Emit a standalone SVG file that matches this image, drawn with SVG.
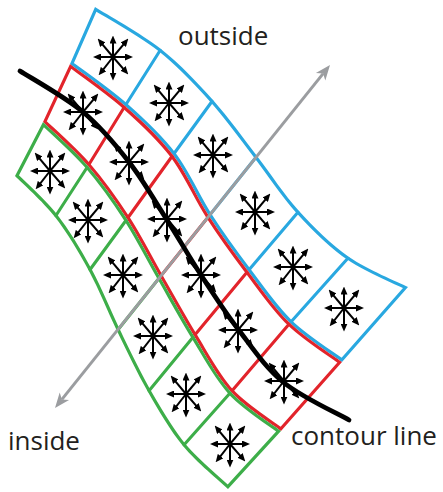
<svg xmlns="http://www.w3.org/2000/svg" xmlns:xlink="http://www.w3.org/1999/xlink" width="443" height="492" viewBox="0 0 443 492">
<style>
.band{fill:#fff;stroke-width:6.4;stroke-linejoin:miter}
.blue{stroke:#29a8e0}
.red{stroke:#e2242b}
.green{stroke:#3dae49}
.div{fill:none;stroke-width:3.1}
.lbl{font-family:"Open Sans","Liberation Sans",sans-serif;font-size:26px;fill:#231f20}
.arm{stroke:#000;stroke-width:2;marker-end:url(#ah)}
</style>
<defs>
<marker id="ah" markerUnits="userSpaceOnUse" markerWidth="8" markerHeight="7" refX="4.5" refY="3.5" orient="auto" viewBox="0 0 8 7">
<path d="M0,0 L8,3.5 L0,7 Z" fill="#000"/>
</marker>
<g id="star">
<line class="arm" x1="0" y1="0" x2="0" y2="-18"/>
<line class="arm" x1="0" y1="0" x2="13.1" y2="-15.7"/>
<line class="arm" x1="0" y1="0" x2="16.5" y2="0"/>
<line class="arm" x1="0" y1="0" x2="13" y2="14.8"/>
<line class="arm" x1="0" y1="0" x2="0" y2="20"/>
<line class="arm" x1="0" y1="0" x2="-12.2" y2="15.6"/>
<line class="arm" x1="0" y1="0" x2="-16.5" y2="0"/>
<line class="arm" x1="0" y1="0" x2="-13.1" y2="-15.7"/>
</g>
<path id="shB" d="M95,7 C106,14 141.3,33.5 161,49 C180.7,64.5 197,82.2 213,100 C229,117.8 242.7,137.5 257,156 C271.3,174.5 283.7,194.2 299,211 C314.3,227.8 330.8,244.3 349,257 C367.2,269.7 398.2,282 408,287 L342,362 C333.3,355.5 305.7,338.2 290,323 C274.3,307.8 261.5,288.8 248,271 C234.5,253.2 221.5,235.3 209,216 C196.5,196.7 187,173.3 173,155 C159,136.7 142.2,121.2 125,106 C107.8,90.8 79.2,71 70,64 Z"/>
<path id="shR" d="M70,64 C79.2,71 107.8,90.8 125,106 C142.2,121.2 159,136.7 173,155 C187,173.3 196.5,196.7 209,216 C221.5,235.3 234.5,253.2 248,271 C261.5,288.8 274.3,307.8 290,323 C305.7,338.2 333.3,355.5 342,362 L281,431 C272.7,424.5 245.5,407.8 231,392 C216.5,376.2 205.8,355.2 194,336 C182.2,316.8 171.2,296.5 160,277 C148.8,257.5 139,237.5 127,219 C115,200.5 102,182.2 88,166 C74,149.8 50.5,129.3 43,122 Z"/>
<path id="shG" d="M43,122 C50.5,129.3 74,149.8 88,166 C102,182.2 115,200.5 127,219 C139,237.5 148.8,257.5 160,277 C171.2,296.5 182.2,316.8 194,336 C205.8,355.2 216.5,376.2 231,392 C245.5,407.8 272.7,424.5 281,431 L228,489 C220.5,481.8 196.3,462.2 183,446 C169.7,429.8 159,411.2 148,392 C137,372.8 126.8,351.2 117,331 C107.2,310.8 99.3,290 89,271 C78.7,252 67.3,232.8 55,217 C42.7,201.2 21.7,182.8 15,176 Z"/>
<clipPath id="cB"><use xlink:href="#shB"/></clipPath>
<clipPath id="cR"><use xlink:href="#shR"/></clipPath>
<clipPath id="cG"><use xlink:href="#shG"/></clipPath>
</defs>
<rect width="443" height="492" fill="#fff"/>
<g id="band-outside">
<g clip-path="url(#cB)">
<use xlink:href="#shB" class="band blue"/>
<path class="div blue" d="M161,49 L125,106 M213,100 L173,155 M257,156 L209,216 M299,211 L248,271 M349,257 L290,323"/>
</g>
<g id="cell-o1"><use xlink:href="#star" x="113" y="57"/></g>
<g id="cell-o2"><use xlink:href="#star" x="169" y="103"/></g>
<g id="cell-o3"><use xlink:href="#star" x="213" y="155"/></g>
<g id="cell-o4"><use xlink:href="#star" x="255" y="212"/></g>
<g id="cell-o5"><use xlink:href="#star" x="293" y="267"/></g>
<g id="cell-o6"><use xlink:href="#star" x="344" y="308"/></g>
</g>
<g id="band-contour">
<g clip-path="url(#cR)">
<use xlink:href="#shR" class="band red"/>
<path class="div red" d="M125,106 L88,166 M173,155 L127,219 M209,216 L160,277 M248,271 L194,336 M290,323 L231,392"/>
</g>
<g id="cell-c1"><use xlink:href="#star" x="83" y="112"/></g>
<g id="cell-c2"><use xlink:href="#star" x="129" y="162"/></g>
<g id="cell-c3"><use xlink:href="#star" x="167" y="219"/></g>
<g id="cell-c4"><use xlink:href="#star" x="201" y="275"/></g>
<g id="cell-c5"><use xlink:href="#star" x="238" y="330"/></g>
<g id="cell-c6"><use xlink:href="#star" x="284" y="381"/></g>
</g>
<g id="band-inside">
<g clip-path="url(#cG)">
<use xlink:href="#shG" class="band green"/>
<path class="div green" d="M88,166 L55,217 M127,219 L89,271 M160,277 L117,331 M194,336 L148,392 M231,392 L183,446"/>
</g>
<g id="cell-i1"><use xlink:href="#star" x="50" y="171"/></g>
<g id="cell-i2"><use xlink:href="#star" x="88" y="220"/></g>
<g id="cell-i3"><use xlink:href="#star" x="123" y="275"/></g>
<g id="cell-i4"><use xlink:href="#star" x="153" y="336"/></g>
<g id="cell-i5"><use xlink:href="#star" x="186" y="394"/></g>
<g id="cell-i6"><use xlink:href="#star" x="230" y="444"/></g>
</g>
<g id="connectors">
<g id="normal-arrow">
<line x1="323.1" y1="73.6" x2="61.9" y2="399.4" stroke="#9b9da0" stroke-width="3"/>
<polygon points="330,65 325.3,80.45 323.1,73.6 315.9,72.95" fill="#9b9da0"/>
<polygon points="55,408 69.06,400.05 61.9,399.4 59.7,392.55" fill="#9b9da0"/>
</g>
<path id="contour" d="M20,71 C30.5,77.8 64.8,96.8 83,112 C101.2,127.2 115,144 129,162 C143,180 155,201.2 167,220 C179,238.8 189.2,256.8 201,275 C212.8,293.2 224.3,311.2 238,329 C251.7,346.8 264.5,366.8 283,382 C301.5,397.2 338,413.7 349,420" fill="none" stroke="#000" stroke-width="4.8" stroke-linecap="round"/>
</g>
<g id="labels">
<text class="lbl" x="178" y="45">outside</text>
<text class="lbl" x="8" y="450">inside</text>
<text class="lbl" x="291" y="445">contour line</text>
</g>
</svg>
